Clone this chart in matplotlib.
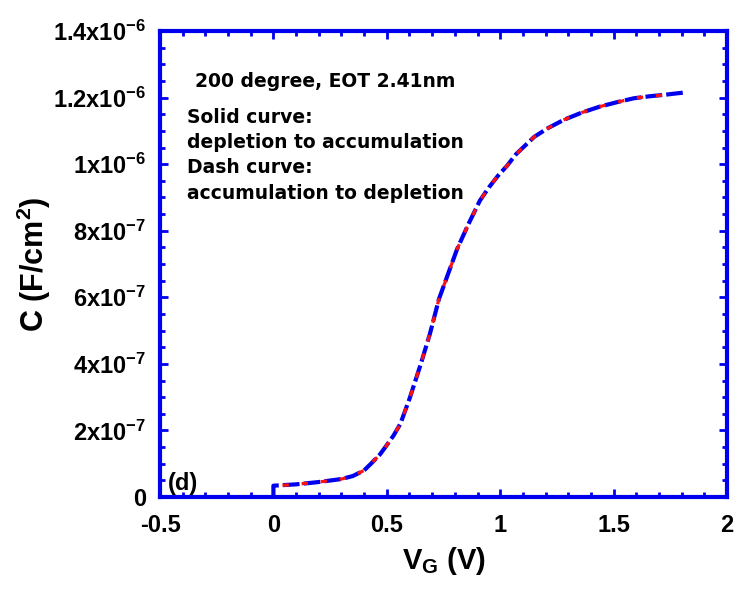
import numpy as np
import matplotlib
matplotlib.use("Agg")
import matplotlib.pyplot as plt
from matplotlib.ticker import MultipleLocator, FixedLocator

plt.rcParams['font.family'] = ['Liberation Sans', 'DejaVu Sans']
plt.rcParams['font.weight'] = 'bold'
plt.rcParams['mathtext.fontset'] = 'custom'
plt.rcParams['mathtext.rm'] = 'Liberation Sans:bold'
plt.rcParams['mathtext.it'] = 'Liberation Sans:bold'
plt.rcParams['mathtext.bf'] = 'Liberation Sans:bold'

# gate voltage (V) and capacitance (F/cm^2)
v_sweep = [0.0, 0.0, 0.1, 0.2, 0.3, 0.35, 0.4, 0.43, 0.47, 0.5, 0.53, 0.56, 0.6, 0.65,
           0.69, 0.73, 0.77, 0.81, 0.86, 0.91, 0.95, 0.99, 1.03, 1.07, 1.15, 1.21, 1.28,
           1.36, 1.44, 1.52, 1.59, 1.66, 1.72, 1.77, 1.81]
c_sweep = [0.0, 3.4e-8, 3.8e-8, 4.5e-8, 5.4e-8, 6.3e-8, 8.0e-8, 1.0e-7, 1.28e-7, 1.56e-7,
           1.85e-7, 2.2e-7, 2.95e-7, 4.0e-7, 4.9e-7, 5.95e-7, 6.7e-7, 7.45e-7, 8.2e-7,
           8.9e-7, 9.3e-7, 9.65e-7, 9.95e-7, 1.03e-6, 1.082e-6, 1.108e-6, 1.133e-6,
           1.155e-6, 1.173e-6, 1.187e-6, 1.198e-6, 1.204e-6, 1.208e-6, 1.212e-6, 1.215e-6]

v_back = [0.04, 0.1, 0.2, 0.3, 0.35, 0.4, 0.43, 0.47, 0.5, 0.53, 0.56, 0.6, 0.65,
          0.69, 0.73, 0.77, 0.81, 0.86, 0.91, 0.95, 0.99, 1.03, 1.07, 1.15, 1.21, 1.28,
          1.36, 1.44, 1.52, 1.59, 1.66, 1.73]
c_back = [3.5e-8, 3.8e-8, 4.5e-8, 5.4e-8, 6.3e-8, 8.0e-8, 1.0e-7, 1.28e-7, 1.56e-7,
          1.85e-7, 2.2e-7, 2.95e-7, 4.0e-7, 4.9e-7, 5.95e-7, 6.7e-7, 7.45e-7, 8.2e-7,
          8.9e-7, 9.3e-7, 9.65e-7, 9.95e-7, 1.03e-6, 1.082e-6, 1.108e-6, 1.133e-6,
          1.155e-6, 1.173e-6, 1.187e-6, 1.198e-6, 1.204e-6, 1.208e-6]

y_ticks = [0, 2e-7, 4e-7, 6e-7, 8e-7, 1e-6, 1.2e-6, 1.4e-6]
y_labels = ['0', r'2x10$^{-7}$', r'4x10$^{-7}$', r'6x10$^{-7}$', r'8x10$^{-7}$',
            r'1x10$^{-6}$', r'1.2x10$^{-6}$', r'1.4x10$^{-6}$']
x_ticks = [-0.5, 0, 0.5, 1, 1.5, 2]
x_labels = ['-0.5', '0', '0.5', '1', '1.5', '2']

fig = plt.figure(figsize=(7.36, 5.95), dpi=100)
ax = fig.add_axes([0.2174, 0.1647, 0.7704, 0.7832])

ax.plot(v_sweep, c_sweep, color='#0000ee', lw=3, ls=(0, (4, 1)))
ax.plot(v_back, c_back, color='#ff1010', lw=2.3, ls=(0, (2, 4)))

ax.set_xlim(-0.5, 2)
ax.set_ylim(0, 1.4e-6)
ax.xaxis.set_major_locator(FixedLocator(x_ticks))
ax.set_xticklabels(x_labels)
ax.yaxis.set_major_locator(FixedLocator(y_ticks))
ax.set_yticklabels(y_labels)
ax.xaxis.set_minor_locator(MultipleLocator(0.1))
ax.yaxis.set_minor_locator(MultipleLocator(0.5e-7))

for s in ax.spines.values():
    s.set_color('#0000ee')
    s.set_linewidth(3)
ax.tick_params(which='both', direction='in', top=True, right=True, color='#0000ee',
               width=2, labelsize=17)
ax.tick_params(axis='x', pad=12)
ax.tick_params(axis='y', pad=10)
ax.tick_params(which='major', length=6)
ax.tick_params(which='minor', length=3.5)

ax.set_xlabel(r'V$_{\mathregular{G}}$ (V)', fontsize=21, fontweight='bold', labelpad=6)
ax.set_ylabel(r'C (F/cm$^{2}$)', fontsize=22, fontweight='bold', labelpad=0)

note_font = ['DejaVu Sans']
ax.text(-0.346, 1.232e-6, '200 degree, EOT 2.41nm', fontsize=13.5, fontweight='bold',
        family=note_font)
ax.text(-0.381, 1.169e-6, 'Solid curve:\ndepletion to accumulation\nDash curve:\naccumulation to depletion',
        fontsize=13.5, fontweight='bold', family=note_font, va='top', linespacing=1.42)
ax.text(-0.465, 0.021e-6, '(d)', fontsize=17, fontweight='bold')

fig.savefig('out.png', dpi=100)
